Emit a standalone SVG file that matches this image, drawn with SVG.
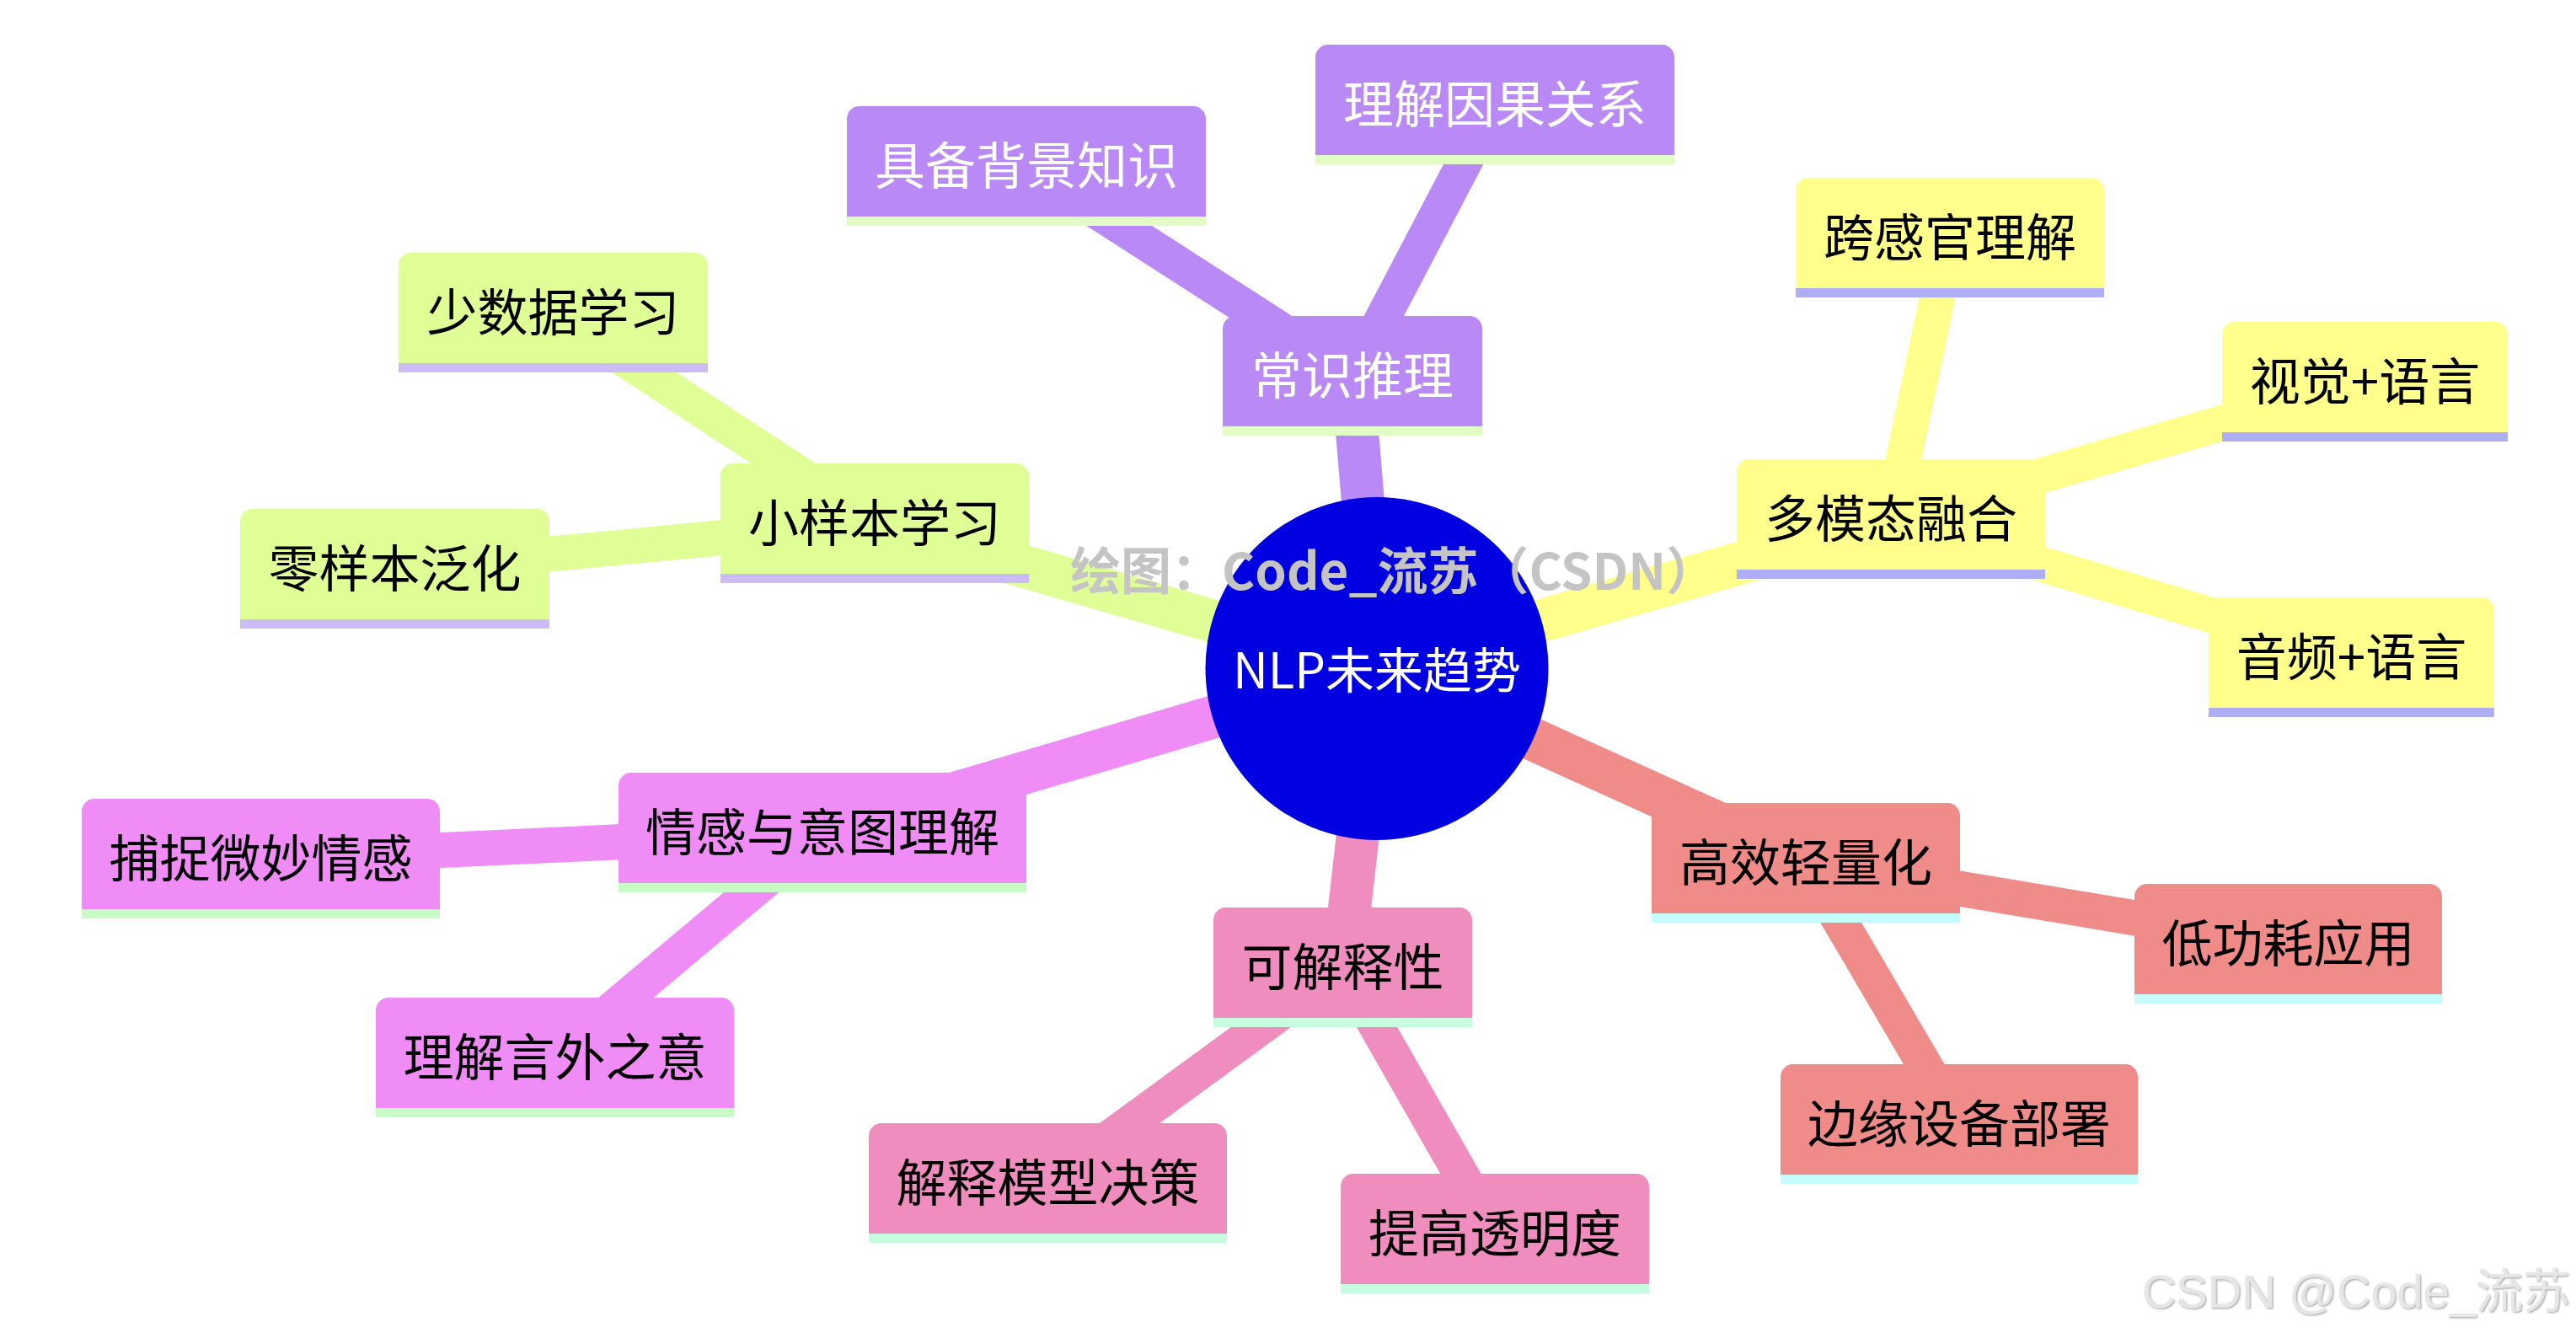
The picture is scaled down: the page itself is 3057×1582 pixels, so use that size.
<svg xmlns="http://www.w3.org/2000/svg" width="3057" height="1582" viewBox="0 0 3057 1582">
<defs>
<style>
.lbl{font-family:"Noto Sans CJK SC","Noto Sans",sans-serif;font-size:60px;text-anchor:middle}
.rootlbl{font-family:"Noto Sans CJK SC","Noto Sans",sans-serif;font-size:58px;text-anchor:middle}
.dark{fill:#000000}
.light{fill:#ffffff}
.e0{stroke-width:51;fill:none;stroke-linecap:butt}
.e1{stroke-width:42;fill:none;stroke-linecap:butt}
.s-pur{fill:#b98af5}.k-pur{stroke:#b98af5}.t-pur{fill:#e1fcc4}
.s-yel{fill:#ffff8c}.k-yel{stroke:#ffff8c}.t-yel{fill:#aeaef6}
.s-sal{fill:#ef8b88}.k-sal{stroke:#ef8b88}.t-sal{fill:#c6fcfc}
.s-pnk{fill:#ef8dbf}.k-pnk{stroke:#ef8dbf}.t-pnk{fill:#c6fce0}
.s-mag{fill:#ef8cf6}.k-mag{stroke:#ef8cf6}.t-mag{fill:#c8fcc6}
.s-grn{fill:#dfff96}.k-grn{stroke:#dfff96}.t-grn{fill:#cdbbf5}
.wm{font-family:"Noto Sans CJK SC","Noto Sans",sans-serif;font-weight:700;font-size:60px;fill:#c4c4c4}
.wm2{font-family:"Liberation Sans","Noto Sans CJK SC",sans-serif;font-size:56px;fill:#e6e6e6;text-anchor:end}
</style>
<filter id="emb" x="-5%" y="-20%" width="110%" height="140%">
<feDropShadow dx="1.2" dy="1.2" stdDeviation="0.8" flood-color="#9a9a9a" flood-opacity="0.9"/>
</filter>
</defs>
<rect x="0" y="0" width="3057" height="1582" fill="#ffffff"/>
<g id="connectors">
<line class="e0 k-pur" x1="1634" y1="793.5" x2="1605" y2="446"/>
<line class="e0 k-yel" x1="1634" y1="793.5" x2="2244" y2="616"/>
<line class="e0 k-sal" x1="1634" y1="793.5" x2="2143" y2="1024"/>
<line class="e0 k-pnk" x1="1634" y1="793.5" x2="1593.5" y2="1148"/>
<line class="e0 k-mag" x1="1634" y1="793.5" x2="976" y2="988"/>
<line class="e0 k-grn" x1="1634" y1="793.5" x2="1038" y2="621"/>
<line class="e1 k-pur" x1="1605" y1="446" x2="1218" y2="197"/>
<line class="e1 k-pur" x1="1605" y1="446" x2="1774" y2="124"/>
<line class="e1 k-yel" x1="2244" y1="616" x2="2314" y2="282"/>
<line class="e1 k-yel" x1="2244" y1="616" x2="2806.5" y2="453"/>
<line class="e1 k-yel" x1="2244" y1="616" x2="2790.5" y2="780"/>
<line class="e1 k-sal" x1="2143" y1="1024" x2="2715.5" y2="1120"/>
<line class="e1 k-sal" x1="2143" y1="1024" x2="2325" y2="1334"/>
<line class="e1 k-pnk" x1="1593.5" y1="1148" x2="1243.5" y2="1404"/>
<line class="e1 k-pnk" x1="1593.5" y1="1148" x2="1774" y2="1464"/>
<line class="e1 k-mag" x1="976" y1="988" x2="309.5" y2="1019"/>
<line class="e1 k-mag" x1="976" y1="988" x2="658.5" y2="1255"/>
<line class="e1 k-grn" x1="1038" y1="621" x2="656.5" y2="371"/>
<line class="e1 k-grn" x1="1038" y1="621" x2="468.5" y2="675"/>
</g>
<g id="node-changshi" transform="translate(1451,375)">
<path class="s-pur" d="M0,131 V15 A15,15 0 0 1 15,0 H293 A15,15 0 0 1 308,15 V131 Z"/>
<rect class="t-pur" x="0" y="131" width="308" height="11"/>
<text class="lbl light" x="154" y="93">常识推理</text>
</g>
<g id="node-beijing" transform="translate(1005,126)">
<path class="s-pur" d="M0,131 V15 A15,15 0 0 1 15,0 H411 A15,15 0 0 1 426,15 V131 Z"/>
<rect class="t-pur" x="0" y="131" width="426" height="11"/>
<text class="lbl light" x="213" y="93">具备背景知识</text>
</g>
<g id="node-yinguo" transform="translate(1561,53)">
<path class="s-pur" d="M0,131 V15 A15,15 0 0 1 15,0 H411 A15,15 0 0 1 426,15 V131 Z"/>
<rect class="t-pur" x="0" y="131" width="426" height="11"/>
<text class="lbl light" x="213" y="93">理解因果关系</text>
</g>
<g id="node-duomotai" transform="translate(2061,545)">
<path class="s-yel" d="M0,131 V15 A15,15 0 0 1 15,0 H351 A15,15 0 0 1 366,15 V131 Z"/>
<rect class="t-yel" x="0" y="131" width="366" height="11"/>
<text class="lbl dark" x="183" y="93">多模态融合</text>
</g>
<g id="node-kuaganguan" transform="translate(2131,211)">
<path class="s-yel" d="M0,131 V15 A15,15 0 0 1 15,0 H351 A15,15 0 0 1 366,15 V131 Z"/>
<rect class="t-yel" x="0" y="131" width="366" height="11"/>
<text class="lbl dark" x="183" y="93">跨感官理解</text>
</g>
<g id="node-shijue" transform="translate(2637,382)">
<path class="s-yel" d="M0,131 V15 A15,15 0 0 1 15,0 H324 A15,15 0 0 1 339,15 V131 Z"/>
<rect class="t-yel" x="0" y="131" width="339" height="11"/>
<text class="lbl dark" x="169.5" y="93">视觉+语言</text>
</g>
<g id="node-yinpin" transform="translate(2621,709)">
<path class="s-yel" d="M0,131 V15 A15,15 0 0 1 15,0 H324 A15,15 0 0 1 339,15 V131 Z"/>
<rect class="t-yel" x="0" y="131" width="339" height="11"/>
<text class="lbl dark" x="169.5" y="93">音频+语言</text>
</g>
<g id="node-gaoxiao" transform="translate(1960,953)">
<path class="s-sal" d="M0,131 V15 A15,15 0 0 1 15,0 H351 A15,15 0 0 1 366,15 V131 Z"/>
<rect class="t-sal" x="0" y="131" width="366" height="11"/>
<text class="lbl dark" x="183" y="93">高效轻量化</text>
</g>
<g id="node-digonghao" transform="translate(2533,1049)">
<path class="s-sal" d="M0,131 V15 A15,15 0 0 1 15,0 H350 A15,15 0 0 1 365,15 V131 Z"/>
<rect class="t-sal" x="0" y="131" width="365" height="11"/>
<text class="lbl dark" x="182.5" y="93">低功耗应用</text>
</g>
<g id="node-bianyuan" transform="translate(2113,1263)">
<path class="s-sal" d="M0,131 V15 A15,15 0 0 1 15,0 H409 A15,15 0 0 1 424,15 V131 Z"/>
<rect class="t-sal" x="0" y="131" width="424" height="11"/>
<text class="lbl dark" x="212" y="93">边缘设备部署</text>
</g>
<g id="node-kejieshi" transform="translate(1440,1077)">
<path class="s-pnk" d="M0,131 V15 A15,15 0 0 1 15,0 H292 A15,15 0 0 1 307,15 V131 Z"/>
<rect class="t-pnk" x="0" y="131" width="307" height="11"/>
<text class="lbl dark" x="153.5" y="93">可解释性</text>
</g>
<g id="node-jieshimoxing" transform="translate(1031,1333)">
<path class="s-pnk" d="M0,131 V15 A15,15 0 0 1 15,0 H410 A15,15 0 0 1 425,15 V131 Z"/>
<rect class="t-pnk" x="0" y="131" width="425" height="11"/>
<text class="lbl dark" x="212.5" y="93">解释模型决策</text>
</g>
<g id="node-touming" transform="translate(1591,1393)">
<path class="s-pnk" d="M0,131 V15 A15,15 0 0 1 15,0 H351 A15,15 0 0 1 366,15 V131 Z"/>
<rect class="t-pnk" x="0" y="131" width="366" height="11"/>
<text class="lbl dark" x="183" y="93">提高透明度</text>
</g>
<g id="node-qinggan" transform="translate(734,917)">
<path class="s-mag" d="M0,131 V15 A15,15 0 0 1 15,0 H469 A15,15 0 0 1 484,15 V131 Z"/>
<rect class="t-mag" x="0" y="131" width="484" height="11"/>
<text class="lbl dark" x="242" y="93">情感与意图理解</text>
</g>
<g id="node-buzhuo" transform="translate(97,948)">
<path class="s-mag" d="M0,131 V15 A15,15 0 0 1 15,0 H410 A15,15 0 0 1 425,15 V131 Z"/>
<rect class="t-mag" x="0" y="131" width="425" height="11"/>
<text class="lbl dark" x="212.5" y="93">捕捉微妙情感</text>
</g>
<g id="node-yanwai" transform="translate(446,1184)">
<path class="s-mag" d="M0,131 V15 A15,15 0 0 1 15,0 H410 A15,15 0 0 1 425,15 V131 Z"/>
<rect class="t-mag" x="0" y="131" width="425" height="11"/>
<text class="lbl dark" x="212.5" y="93">理解言外之意</text>
</g>
<g id="node-xiaoyangben" transform="translate(855,550)">
<path class="s-grn" d="M0,131 V15 A15,15 0 0 1 15,0 H351 A15,15 0 0 1 366,15 V131 Z"/>
<rect class="t-grn" x="0" y="131" width="366" height="11"/>
<text class="lbl dark" x="183" y="93">小样本学习</text>
</g>
<g id="node-shaoshuju" transform="translate(473,300)">
<path class="s-grn" d="M0,131 V15 A15,15 0 0 1 15,0 H352 A15,15 0 0 1 367,15 V131 Z"/>
<rect class="t-grn" x="0" y="131" width="367" height="11"/>
<text class="lbl dark" x="183.5" y="93">少数据学习</text>
</g>
<g id="node-lingyangben" transform="translate(285,604)">
<path class="s-grn" d="M0,131 V15 A15,15 0 0 1 15,0 H352 A15,15 0 0 1 367,15 V131 Z"/>
<rect class="t-grn" x="0" y="131" width="367" height="11"/>
<text class="lbl dark" x="183.5" y="93">零样本泛化</text>
</g>
<g id="node-root">
<circle cx="1634" cy="793.5" r="203.5" fill="#0000e0"/>
<text class="rootlbl light" x="1634" y="817">NLP未来趋势</text>
</g>
<g id="watermarks">
<text class="wm" x="1270" y="700">绘图：Code_流苏（CSDN）</text>
<text class="wm2" x="3050" y="1552" filter="url(#emb)">CSDN @Code_流苏</text>
</g>
</svg>
